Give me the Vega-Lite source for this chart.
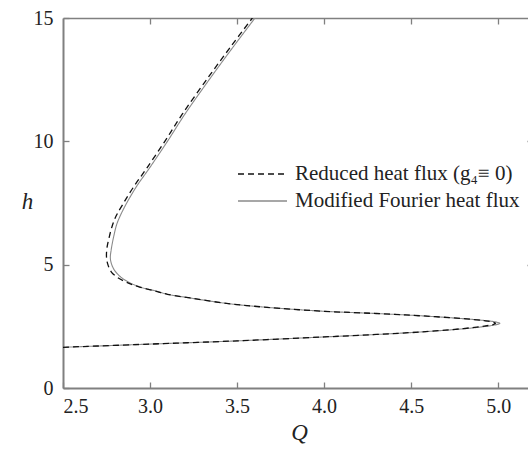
{
  "$schema": "https://vega.github.io/schema/vega-lite/v6.json",
  "autosize": "none",
  "width": 470,
  "height": 370,
  "padding": {"left": 63, "top": 18, "right": 0, "bottom": 61},
  "background": "white",
  "config": {
    "view": {"stroke": null},
    "axis": {"grid": false, "domainColor": "#808080", "tickColor": "#808080", "labelFont": "Liberation Serif", "labelFontSize": 20, "labelColor": "#222222", "titleFont": "Liberation Serif", "titleFontStyle": "italic", "titleFontWeight": "normal", "titleFontSize": 23, "titleColor": "#222222"},
    "legend": {"orient": "none", "legendX": 174, "legendY": 145, "symbolType": "M-1,0H3.9", "symbolSize": 400, "symbolStrokeWidth": 1.3, "labelFont": "Liberation Serif", "labelFontSize": 21, "labelColor": "#222222", "labelOffset": 36, "rowPadding": 6, "title": null, "labelLimit": 400}
  },
  "data": {"values": [
    {"s": "Modified Fourier heat flux", "i": 1, "Q": 2.5, "h": 1.65},
    {"s": "Modified Fourier heat flux", "i": 2, "Q": 3.0, "h": 1.78},
    {"s": "Modified Fourier heat flux", "i": 3, "Q": 3.5, "h": 1.91},
    {"s": "Modified Fourier heat flux", "i": 4, "Q": 4.0, "h": 2.07},
    {"s": "Modified Fourier heat flux", "i": 5, "Q": 4.3, "h": 2.17},
    {"s": "Modified Fourier heat flux", "i": 6, "Q": 4.55, "h": 2.27},
    {"s": "Modified Fourier heat flux", "i": 7, "Q": 4.8, "h": 2.40},
    {"s": "Modified Fourier heat flux", "i": 8, "Q": 4.93, "h": 2.50},
    {"s": "Modified Fourier heat flux", "i": 9, "Q": 4.99, "h": 2.57},
    {"s": "Modified Fourier heat flux", "i": 10, "Q": 5.01, "h": 2.62},
    {"s": "Modified Fourier heat flux", "i": 11, "Q": 4.99, "h": 2.67},
    {"s": "Modified Fourier heat flux", "i": 12, "Q": 4.93, "h": 2.73},
    {"s": "Modified Fourier heat flux", "i": 13, "Q": 4.8, "h": 2.81},
    {"s": "Modified Fourier heat flux", "i": 14, "Q": 4.55, "h": 2.93},
    {"s": "Modified Fourier heat flux", "i": 15, "Q": 4.3, "h": 3.02},
    {"s": "Modified Fourier heat flux", "i": 16, "Q": 4.0, "h": 3.11},
    {"s": "Modified Fourier heat flux", "i": 17, "Q": 3.655, "h": 3.28},
    {"s": "Modified Fourier heat flux", "i": 18, "Q": 3.45, "h": 3.42},
    {"s": "Modified Fourier heat flux", "i": 19, "Q": 3.23, "h": 3.65},
    {"s": "Modified Fourier heat flux", "i": 20, "Q": 3.1, "h": 3.8},
    {"s": "Modified Fourier heat flux", "i": 21, "Q": 3.04, "h": 3.92},
    {"s": "Modified Fourier heat flux", "i": 22, "Q": 2.95, "h": 4.08},
    {"s": "Modified Fourier heat flux", "i": 23, "Q": 2.885, "h": 4.26},
    {"s": "Modified Fourier heat flux", "i": 24, "Q": 2.835, "h": 4.48},
    {"s": "Modified Fourier heat flux", "i": 25, "Q": 2.8, "h": 4.73},
    {"s": "Modified Fourier heat flux", "i": 26, "Q": 2.78, "h": 5.0},
    {"s": "Modified Fourier heat flux", "i": 27, "Q": 2.772, "h": 5.27},
    {"s": "Modified Fourier heat flux", "i": 28, "Q": 2.777, "h": 5.61},
    {"s": "Modified Fourier heat flux", "i": 29, "Q": 2.79, "h": 6.1},
    {"s": "Modified Fourier heat flux", "i": 30, "Q": 2.808, "h": 6.62},
    {"s": "Modified Fourier heat flux", "i": 31, "Q": 2.83, "h": 7.0},
    {"s": "Modified Fourier heat flux", "i": 32, "Q": 2.866, "h": 7.5},
    {"s": "Modified Fourier heat flux", "i": 33, "Q": 2.925, "h": 8.2},
    {"s": "Modified Fourier heat flux", "i": 34, "Q": 2.995, "h": 8.9},
    {"s": "Modified Fourier heat flux", "i": 35, "Q": 3.1, "h": 10.0},
    {"s": "Modified Fourier heat flux", "i": 36, "Q": 3.2, "h": 11.1},
    {"s": "Modified Fourier heat flux", "i": 37, "Q": 3.35, "h": 12.6},
    {"s": "Modified Fourier heat flux", "i": 38, "Q": 3.48, "h": 13.85},
    {"s": "Modified Fourier heat flux", "i": 39, "Q": 3.603, "h": 15.0},
    {"s": "Reduced heat flux (g₄≡ 0)", "i": 1, "Q": 2.5, "h": 1.65},
    {"s": "Reduced heat flux (g₄≡ 0)", "i": 2, "Q": 3.0, "h": 1.78},
    {"s": "Reduced heat flux (g₄≡ 0)", "i": 3, "Q": 3.5, "h": 1.91},
    {"s": "Reduced heat flux (g₄≡ 0)", "i": 4, "Q": 4.0, "h": 2.07},
    {"s": "Reduced heat flux (g₄≡ 0)", "i": 5, "Q": 4.3, "h": 2.17},
    {"s": "Reduced heat flux (g₄≡ 0)", "i": 6, "Q": 4.55, "h": 2.27},
    {"s": "Reduced heat flux (g₄≡ 0)", "i": 7, "Q": 4.8, "h": 2.41},
    {"s": "Reduced heat flux (g₄≡ 0)", "i": 8, "Q": 4.92, "h": 2.51},
    {"s": "Reduced heat flux (g₄≡ 0)", "i": 9, "Q": 4.97, "h": 2.57},
    {"s": "Reduced heat flux (g₄≡ 0)", "i": 10, "Q": 4.985, "h": 2.62},
    {"s": "Reduced heat flux (g₄≡ 0)", "i": 11, "Q": 4.97, "h": 2.67},
    {"s": "Reduced heat flux (g₄≡ 0)", "i": 12, "Q": 4.92, "h": 2.73},
    {"s": "Reduced heat flux (g₄≡ 0)", "i": 13, "Q": 4.8, "h": 2.81},
    {"s": "Reduced heat flux (g₄≡ 0)", "i": 14, "Q": 4.55, "h": 2.93},
    {"s": "Reduced heat flux (g₄≡ 0)", "i": 15, "Q": 4.3, "h": 3.02},
    {"s": "Reduced heat flux (g₄≡ 0)", "i": 16, "Q": 4.0, "h": 3.11},
    {"s": "Reduced heat flux (g₄≡ 0)", "i": 17, "Q": 3.655, "h": 3.28},
    {"s": "Reduced heat flux (g₄≡ 0)", "i": 18, "Q": 3.45, "h": 3.42},
    {"s": "Reduced heat flux (g₄≡ 0)", "i": 19, "Q": 3.23, "h": 3.65},
    {"s": "Reduced heat flux (g₄≡ 0)", "i": 20, "Q": 3.1, "h": 3.8},
    {"s": "Reduced heat flux (g₄≡ 0)", "i": 21, "Q": 3.03, "h": 3.93},
    {"s": "Reduced heat flux (g₄≡ 0)", "i": 22, "Q": 2.94, "h": 4.09},
    {"s": "Reduced heat flux (g₄≡ 0)", "i": 23, "Q": 2.87, "h": 4.27},
    {"s": "Reduced heat flux (g₄≡ 0)", "i": 24, "Q": 2.818, "h": 4.46},
    {"s": "Reduced heat flux (g₄≡ 0)", "i": 25, "Q": 2.778, "h": 4.7},
    {"s": "Reduced heat flux (g₄≡ 0)", "i": 26, "Q": 2.758, "h": 5.0},
    {"s": "Reduced heat flux (g₄≡ 0)", "i": 27, "Q": 2.75, "h": 5.3},
    {"s": "Reduced heat flux (g₄≡ 0)", "i": 28, "Q": 2.752, "h": 5.65},
    {"s": "Reduced heat flux (g₄≡ 0)", "i": 29, "Q": 2.765, "h": 6.1},
    {"s": "Reduced heat flux (g₄≡ 0)", "i": 30, "Q": 2.784, "h": 6.6},
    {"s": "Reduced heat flux (g₄≡ 0)", "i": 31, "Q": 2.807, "h": 7.0},
    {"s": "Reduced heat flux (g₄≡ 0)", "i": 32, "Q": 2.848, "h": 7.5},
    {"s": "Reduced heat flux (g₄≡ 0)", "i": 33, "Q": 2.91, "h": 8.2},
    {"s": "Reduced heat flux (g₄≡ 0)", "i": 34, "Q": 2.98, "h": 8.9},
    {"s": "Reduced heat flux (g₄≡ 0)", "i": 35, "Q": 3.085, "h": 10.0},
    {"s": "Reduced heat flux (g₄≡ 0)", "i": 36, "Q": 3.185, "h": 11.1},
    {"s": "Reduced heat flux (g₄≡ 0)", "i": 37, "Q": 3.335, "h": 12.6},
    {"s": "Reduced heat flux (g₄≡ 0)", "i": 38, "Q": 3.465, "h": 13.85},
    {"s": "Reduced heat flux (g₄≡ 0)", "i": 39, "Q": 3.588, "h": 15.0}
  ]},
  "layer": [
    {
      "transform": [{"filter": "datum.s === 'Modified Fourier heat flux'"}],
      "mark": {"type": "line", "interpolate": "catmull-rom", "clip": true, "strokeWidth": 1.1},
      "encoding": {
        "x": {"field": "Q", "type": "quantitative", "scale": {"domain": [2.5, 5.2], "nice": false, "zero": false},
          "axis": {"orient": "bottom", "values": [2.5, 3.0, 3.5, 4.0, 4.5, 5.0], "format": ".1f", "domainWidth": 2, "tickSize": -6, "tickWidth": 1.3, "labelPadding": 14, "title": "Q", "titleX": 236, "titleY": 44, "titleBaseline": "middle", "titleAlign": "center"}},
        "y": {"field": "h", "type": "quantitative", "scale": {"domain": [0, 15], "nice": false},
          "axis": {"orient": "left", "values": [0, 5, 10, 15], "format": "d", "domainWidth": 2, "tickSize": -6, "tickWidth": 1.3, "labelPadding": 16, "title": "h", "titleAngle": 0, "titleX": -36, "titleY": 183, "titleBaseline": "middle", "titleAlign": "center"}},
        "order": {"field": "i", "type": "quantitative"},
        "color": {"field": "s", "type": "nominal", "scale": {"domain": ["Reduced heat flux (g₄≡ 0)", "Modified Fourier heat flux"], "range": ["#111111", "#8a8a8a"]}},
        "strokeDash": {"field": "s", "type": "nominal", "scale": {"domain": ["Reduced heat flux (g₄≡ 0)", "Modified Fourier heat flux"], "range": [[6, 4], [1, 0]]}}
      }
    },
    {
      "transform": [{"filter": "datum.s !== 'Modified Fourier heat flux'"}],
      "mark": {"type": "line", "interpolate": "catmull-rom", "clip": true, "strokeWidth": 1.3},
      "encoding": {
        "x": {"field": "Q", "type": "quantitative",
          "axis": {"orient": "top", "values": [3.0, 3.5, 4.0, 4.5, 5.0], "labels": false, "domainWidth": 1.5, "tickSize": -6, "tickWidth": 1.3, "title": null}},
        "y": {"field": "h", "type": "quantitative",
          "axis": {"orient": "right", "values": [5, 10], "labels": false, "domainWidth": 1.5, "tickSize": -6, "tickWidth": 1.3, "title": null}},
        "order": {"field": "i", "type": "quantitative"},
        "color": {"field": "s", "type": "nominal"},
        "strokeDash": {"field": "s", "type": "nominal"}
      }
    }
  ],
  "resolve": {"axis": {"x": "independent", "y": "independent"}}
}
